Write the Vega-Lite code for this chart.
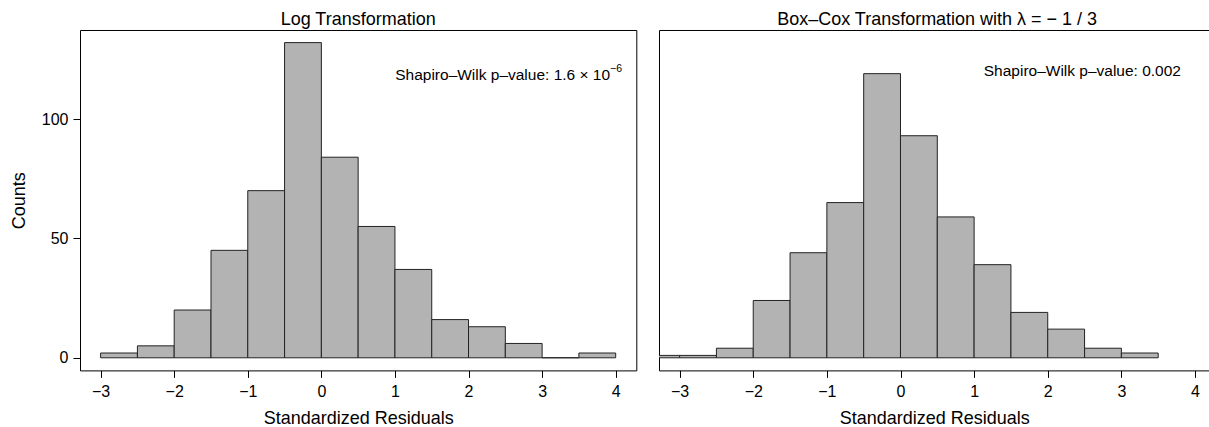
{
  "$schema": "https://vega.github.io/schema/vega-lite/v6.json",
  "padding": {"left": 10, "top": 10, "right": 0, "bottom": 0},
  "background": "white",
  "config": {
    "font": "Liberation Sans",
    "view": {"stroke": "#000", "strokeWidth": 1},
    "axis": {"labelFont": "Liberation Sans", "titleFont": "Liberation Sans", "labelFontSize": 16, "titleFontSize": 18, "titleFontWeight": "normal", "labelColor": "#000", "titleColor": "#000", "tickColor": "#000", "domainColor": "#000", "tickSize": 7, "grid": false},
    "title": {"font": "Liberation Sans", "fontSize": 18, "fontWeight": "normal", "color": "#000", "baseline": "alphabetic", "offset": 0.6},
    "concat": {"spacing": 22}
  },
  "datasets": {
    "log": [
      {"x0": -3.0, "x1": -2.5, "count": 2},
      {"x0": -2.5, "x1": -2.0, "count": 5},
      {"x0": -2.0, "x1": -1.5, "count": 20},
      {"x0": -1.5, "x1": -1.0, "count": 45},
      {"x0": -1.0, "x1": -0.5, "count": 70},
      {"x0": -0.5, "x1": 0.0, "count": 132},
      {"x0": 0.0, "x1": 0.5, "count": 84},
      {"x0": 0.5, "x1": 1.0, "count": 55},
      {"x0": 1.0, "x1": 1.5, "count": 37},
      {"x0": 1.5, "x1": 2.0, "count": 16},
      {"x0": 2.0, "x1": 2.5, "count": 13},
      {"x0": 2.5, "x1": 3.0, "count": 6},
      {"x0": 3.0, "x1": 3.5, "count": 0},
      {"x0": 3.5, "x1": 4.0, "count": 2}
    ],
    "boxcox": [
      {"x0": -3.5, "x1": -3.0, "count": 1},
      {"x0": -3.0, "x1": -2.5, "count": 1},
      {"x0": -2.5, "x1": -2.0, "count": 4},
      {"x0": -2.0, "x1": -1.5, "count": 24},
      {"x0": -1.5, "x1": -1.0, "count": 44},
      {"x0": -1.0, "x1": -0.5, "count": 65},
      {"x0": -0.5, "x1": 0.0, "count": 119},
      {"x0": 0.0, "x1": 0.5, "count": 93},
      {"x0": 0.5, "x1": 1.0, "count": 59},
      {"x0": 1.0, "x1": 1.5, "count": 39},
      {"x0": 1.5, "x1": 2.0, "count": 19},
      {"x0": 2.0, "x1": 2.5, "count": 12},
      {"x0": 2.5, "x1": 3.0, "count": 4},
      {"x0": 3.0, "x1": 3.5, "count": 2}
    ],
    "notes_log": [
      {"x": 3.923, "y": 118.4, "label": "Shapiro–Wilk p–value: 1.6 × 10"}
    ],
    "notes_log_sup": [
      {"x": 3.923, "y": 118.4, "label": "−6"}
    ],
    "notes_bc": [
      {"x": 2.47, "y": 120.2, "label": "Shapiro–Wilk p–value: 0.002"}
    ]
  },
  "hconcat": [
    {
      "width": 556.3,
      "height": 340.4,
      "title": "Log Transformation",
      "layer": [
        {
          "data": {"name": "log"},
          "mark": {"type": "rect", "fill": "#b3b3b3", "stroke": "#222", "strokeWidth": 1},
          "encoding": {
            "x": {"field": "x0", "type": "quantitative", "scale": {"domain": [-3.28, 4.28], "nice": false, "zero": false}, "axis": {"values": [-3, -2, -1, 0, 1, 2, 3, 4], "domain": false, "labelPadding": 6, "title": "Standardized Residuals", "titlePadding": 10.5, "format": "d"}},
            "x2": {"field": "x1"},
            "y": {"field": "count", "type": "quantitative", "scale": {"domain": [-5.28, 137.28], "nice": false, "zero": false}, "axis": {"values": [0, 50, 100], "domain": false, "labelPadding": 5, "title": "Counts", "titlePadding": 12.7}},
            "y2": {"datum": 0}
          }
        },
        {
          "data": {"name": "notes_log"},
          "mark": {"type": "text", "fontSize": 15.5, "align": "right", "baseline": "middle", "font": "Liberation Sans", "color": "#000"},
          "encoding": {
            "x": {"field": "x", "type": "quantitative"},
            "y": {"field": "y", "type": "quantitative"},
            "text": {"field": "label"}
          }
        },
        {
          "data": {"name": "notes_log_sup"},
          "mark": {"type": "text", "fontSize": 10.5, "align": "left", "baseline": "middle", "dy": -6.5, "font": "Liberation Sans", "color": "#000"},
          "encoding": {
            "x": {"field": "x", "type": "quantitative"},
            "y": {"field": "y", "type": "quantitative"},
            "text": {"field": "label"}
          }
        }
      ]
    },
    {
      "width": 550.3,
      "height": 340.4,
      "title": {"text": "Box–Cox Transformation with λ = − 1 / 3", "dx": 3},
      "view": {"stroke": null},
      "layer": [
        {
          "data": {"name": "boxcox"},
          "mark": {"type": "rect", "fill": "#b3b3b3", "stroke": "#222", "strokeWidth": 1, "clip": true},
          "encoding": {
            "x": {"field": "x0", "type": "quantitative", "scale": {"domain": [-3.28, 4.194], "nice": false, "zero": false}, "axis": {"values": [-3, -2, -1, 0, 1, 2, 3, 4], "domain": true, "labelPadding": 6, "title": "Standardized Residuals", "titlePadding": 10.5, "format": "d"}},
            "x2": {"field": "x1"},
            "y": {"field": "count", "type": "quantitative", "scale": {"domain": [-5.28, 137.28], "nice": false, "zero": false}, "axis": {"domain": true, "ticks": false, "labels": false, "title": null}},
            "y2": {"datum": 0}
          }
        },
        {
          "data": {"name": "notes_bc"},
          "mark": {"type": "text", "fontSize": 15.5, "align": "center", "baseline": "middle", "font": "Liberation Sans", "color": "#000"},
          "encoding": {
            "x": {"field": "x", "type": "quantitative", "axis": {"orient": "top", "domain": true, "ticks": false, "labels": false, "title": null}},
            "y": {"field": "y", "type": "quantitative"},
            "text": {"field": "label"}
          }
        }
      ],
      "resolve": {"axis": {"x": "independent"}}
    }
  ]
}
